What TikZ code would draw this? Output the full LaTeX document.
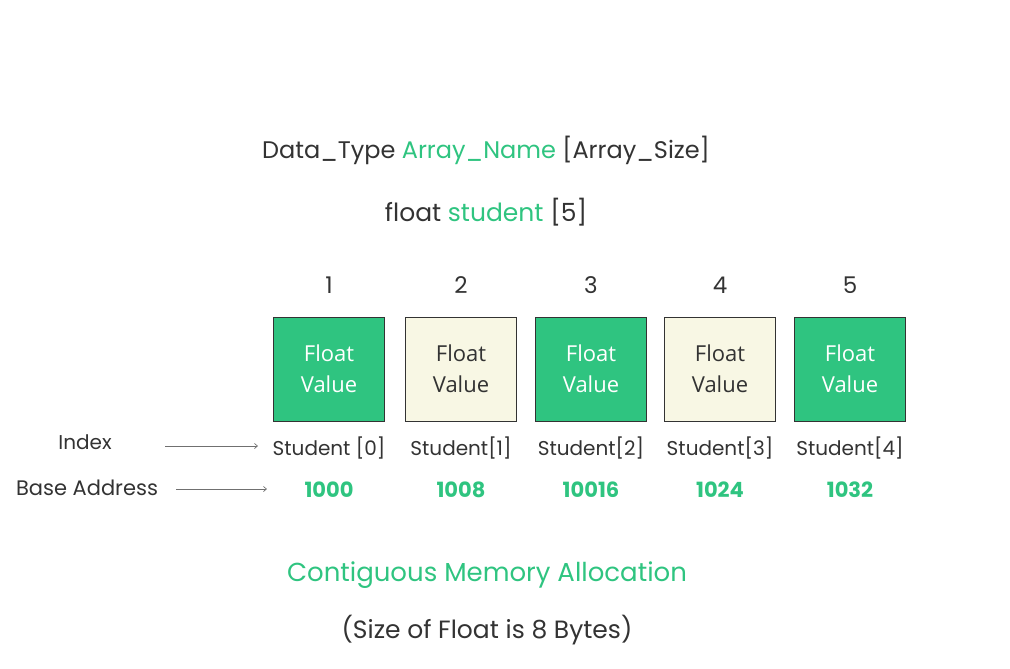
\documentclass[tikz,border=0pt]{standalone}
\usepackage{fontspec}
\setmainfont{Poppins}
\newfontfamily\boxfont{Open Sans}
\usetikzlibrary{arrows.meta}
\definecolor{gfggreen}{RGB}{47,196,128}
\definecolor{cream}{RGB}{248,247,228}
\definecolor{ink}{RGB}{51,51,51}
\begin{document}
\begin{tikzpicture}[x=1pt,y=-1pt,
    cell/.style={draw=ink,line width=1pt,minimum width=111pt,minimum height=104pt,
      align=center,font=\boxfont\fontsize{22}{31}\selectfont},
    lbl/.style={text=ink,font=\fontsize{20}{24}\selectfont},
    addr/.style={text=gfggreen,font=\bfseries\fontsize{21}{24}\selectfont},
    ptr/.style={-{Straight Barb[length=3pt,width=5pt]},ink!70,line width=0.7pt}]
  \useasboundingbox (0,0) rectangle (1010,669);
  % declaration
  \node[text=ink,font=\fontsize{24}{28}\selectfont] (syntax) at (486,150)
    {Data\_Type \textcolor{gfggreen}{Array\_Name} [Array\_Size]};
  \node[text=ink,font=\fontsize{25}{28}\selectfont] (decl) at (486,212)
    {float \textcolor{gfggreen}{student} [5]};
  % array cells
  \foreach \i/\x/\bg/\fg/\nm/\ad in {0/329/gfggreen/white/{Student [0]}/1000,
      1/461/cream/ink/{Student[1]}/1008, 2/591/gfggreen/white/{Student[2]}/10016,
      3/720/cream/ink/{Student[3]}/1024, 4/850/gfggreen/white/{Student[4]}/1032} {
    \pgfmathtruncatemacro\n{\i+1}
    \node[text=ink,font=\fontsize{23}{26}\selectfont] (num\i) at (\x,285) {\n};
    \node[cell,fill=\bg,text=\fg] (cell\i) at (\x,369) {Float\\Value};
    \node[lbl] (stu\i) at (\x,448) {\nm};
    \node[addr] (addr\i) at (\x,490) {\ad};
  }
  % row labels
  \node[lbl] (idx) at (85,442) {Index};
  \node[lbl,font=\fontsize{21}{24}\selectfont] (base) at (87,488) {Base Address};
  \coordinate (idxfrom) at (165,446);
  \coordinate (idxto) at (258,446);
  \coordinate (basefrom) at (176,489);
  \coordinate (baseto) at (267,489);
  \draw[ptr] (idxfrom) -- (idxto);
  \draw[ptr] (basefrom) -- (baseto);
  % caption
  \node[text=gfggreen,font=\fontsize{26}{30}\selectfont] (title) at (487,575)
    {Contiguous Memory Allocation};
  \node[text=ink,font=\fontsize{25}{28}\selectfont] (note) at (487,630)
    {(Size of Float is 8 Bytes)};
\end{tikzpicture}
\end{document}
